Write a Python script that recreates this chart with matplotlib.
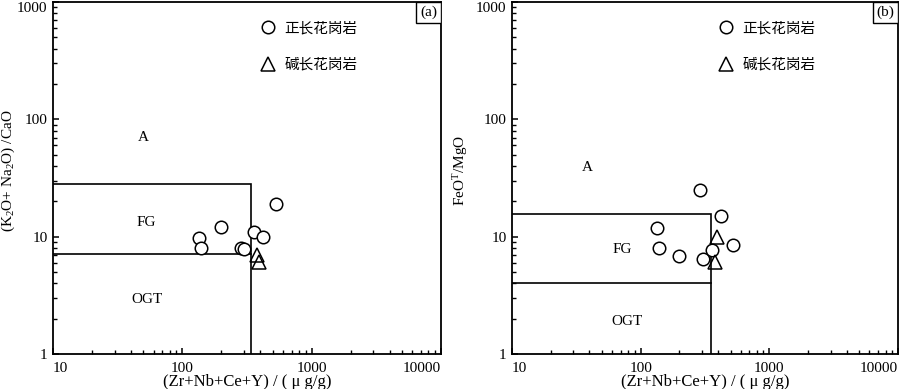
import matplotlib
matplotlib.use("Agg")
import matplotlib.pyplot as plt
from matplotlib.patches import Rectangle
from matplotlib.ticker import LogLocator, NullFormatter, FixedLocator, FixedFormatter

plt.rcParams['font.family'] = ['Liberation Serif', 'Noto Sans CJK SC']
plt.rcParams['mathtext.fontset'] = 'custom'
plt.rcParams['mathtext.rm'] = 'Liberation Serif'
plt.rcParams['mathtext.it'] = 'Liberation Serif:italic'

# ---- data: panel (a) ----
a_circ_x = [533, 199, 135, 140, 283, 300, 357, 421]
a_circ_y = [18.9, 12.2, 9.75, 8.0, 8.0, 7.9, 11.0, 9.9]
a_tri_x = [380, 394]
a_tri_y = [7.0, 6.1]
a_box_x = 340
a_box_y = [28, 7.1]

# ---- data: panel (b) ----
b_circ_x = [288, 419, 135, 139, 197, 305, 359, 521]
b_circ_y = [25, 15.0, 11.9, 7.96, 6.9, 6.5, 7.7, 8.5]
b_tri_x = [390, 380]
b_tri_y = [10.0, 6.1]
b_box_x = 350
b_box_y = [15.7, 4.0]

series_labels = ['正长花岗岩', '碱长花岗岩']
xticks = [10, 100, 1000, 10000]
yticks = [1, 10, 100, 1000]
xlabel = '(Zr+Nb+Ce+Y) / ( μ g/g)'
ylabel_a = '(K$_2$O+ Na$_2$O) /CaO'
ylabel_b = 'FeO$^{\\mathrm{T}}$/MgO'

fig = plt.figure(figsize=(9, 3.89), dpi=100)
ax_a = fig.add_axes([53/900, 1-354/389, 388/900, 352/389])
ax_b = fig.add_axes([512/900, 1-354/389, 386/900, 352/389])

def setup(ax, cx, cy, tx, ty, bx, by, ylabel, ylab_xy, panel, labpos):
    ax.set_xscale('log')
    ax.set_yscale('log')
    # region boundaries
    ax.plot([10, bx, bx], [by[0], by[0], 1], color='black', lw=1.2, solid_joinstyle='miter')
    ax.plot([10, bx], [by[1], by[1]], color='black', lw=1.2)
    ax.plot(cx, cy, linestyle='none', marker='o', ms=9, mfc='white', mec='black', mew=1.1,
            label=series_labels[0])
    ax.plot(tx, ty, linestyle='none', marker='^', ms=9.5, mfc='none', mec='black', mew=1.1,
            label=series_labels[1])
    for s in ax.spines.values():
        s.set_linewidth(1.3)
    w = ax.get_position().width * 900
    h = ax.get_position().height * 389
    bw, bh = 25 / w, 21 / h
    ax.add_patch(Rectangle((1 - bw, 1 - bh), bw, bh, transform=ax.transAxes,
                           fc='white', ec='black', lw=1.0, zorder=3))
    ax.text(1 - bw / 2, 1 - bh / 2, panel, transform=ax.transAxes, fontsize=11,
            ha='center', va='center', zorder=4)
    ax.set_xlim(10, 10000)
    ax.set_ylim(1, 1000)
    ax.xaxis.set_major_locator(FixedLocator(xticks))
    ax.xaxis.set_major_formatter(FixedFormatter([str(v) for v in xticks]))
    ax.yaxis.set_major_locator(FixedLocator(yticks))
    ax.yaxis.set_major_formatter(FixedFormatter([str(v) for v in yticks]))
    ax.xaxis.set_minor_locator(LogLocator(base=10, subs=range(2, 10)))
    ax.yaxis.set_minor_locator(LogLocator(base=10, subs=range(2, 10)))
    ax.xaxis.set_minor_formatter(NullFormatter())
    ax.yaxis.set_minor_formatter(NullFormatter())
    ax.tick_params(which='both', direction='in', top=False, right=False, labelsize=11)
    ax.tick_params(axis='x', which='major', pad=6)
    ax.tick_params(axis='y', which='major', pad=4)
    ax.tick_params(which='major', length=4, width=1.1)
    ax.tick_params(which='minor', length=3, width=1.0)
    xt = ax.xaxis.get_major_ticks()
    xt[0].label1.set_horizontalalignment('left')
    xt[-1].label1.set_horizontalalignment('right')
    yt = ax.yaxis.get_major_ticks()
    yt[-1].label1.set_verticalalignment('top')
    ax.set_xlabel(xlabel, fontsize=12, labelpad=-1)
    ax.set_ylabel(ylabel, fontsize=11)
    ax.yaxis.set_label_coords(*ylab_xy)
    for txt, (x, y) in labpos.items():
        ax.text(x, y, txt, fontsize=11, ha='center', va='center')
    ax.legend(loc='upper left', bbox_to_anchor=(0.51, 0.975), frameon=False,
              prop={'family': ['Noto Sans CJK SC'], 'size': 10.5},
              labelspacing=1.55, handlelength=1.0, handletextpad=0.6, borderpad=0.2)

setup(ax_a, a_circ_x, a_circ_y, a_tri_x, a_tri_y, a_box_x, a_box_y, ylabel_a,
      (-0.094, 0.52), '(a)',
      {'A': (50, 70), 'FG': (53, 13.3), 'OGT': (53, 2.9)})
setup(ax_b, b_circ_x, b_circ_y, b_tri_x, b_tri_y, b_box_x, b_box_y, ylabel_b,
      (-0.11, 0.52), '(b)',
      {'A': (38.7, 39), 'FG': (72.6, 7.85), 'OGT': (79, 1.91)})

fig.savefig('out.png', dpi=100)
